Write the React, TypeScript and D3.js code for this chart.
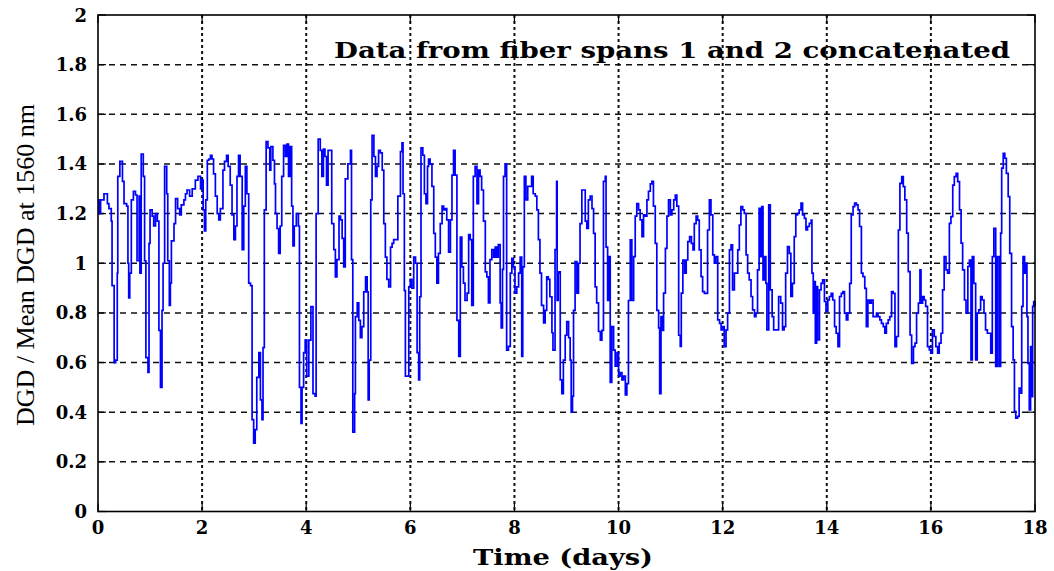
import React from "react";
import * as d3 from "d3";

const timeDays: number[] = [
  0, 0.02, 0.05, 0.115, 0.18, 0.21, 0.255, 0.27, 0.31, 0.34, 0.37, 0.38, 0.42, 0.47, 0.5, 0.55, 0.575, 0.59, 0.61, 0.64,
  0.68, 0.72, 0.75, 0.79, 0.805, 0.83, 0.87, 0.895, 0.92, 0.96, 0.98, 1.0, 1.04, 1.07, 1.105, 1.14, 1.17, 1.2, 1.23, 1.25,
  1.28, 1.32, 1.34, 1.37, 1.39, 1.41, 1.46, 1.49, 1.53, 1.57, 1.6, 1.65, 1.68, 1.71, 1.76, 1.81, 1.87, 1.92, 1.97, 2.0,
  2.02, 2.045, 2.07, 2.1, 2.13, 2.16, 2.19, 2.22, 2.255, 2.29, 2.32, 2.35, 2.4, 2.43, 2.47, 2.5, 2.54, 2.575, 2.61, 2.64,
  2.67, 2.7, 2.73, 2.77, 2.8, 2.83, 2.86, 2.895, 2.93, 2.96, 2.99, 3.02, 3.05, 3.09, 3.12, 3.15, 3.17, 3.195, 3.23, 3.265,
  3.3, 3.32, 3.36, 3.39, 3.41, 3.44, 3.47, 3.5, 3.53, 3.565, 3.6, 3.63, 3.66, 3.69, 3.72, 3.745, 3.77, 3.81, 3.85, 3.87,
  3.9, 3.92, 3.95, 3.98, 4.01, 4.05, 4.09, 4.13, 4.17, 4.19, 4.23, 4.27, 4.3, 4.33,
  4.36, 4.39, 4.42, 4.46, 4.49, 4.53, 4.56, 4.59, 4.63, 4.66, 4.69, 4.72, 4.75, 4.8, 4.85, 4.87, 4.895, 4.93, 4.945, 4.98,
  5.01, 5.04, 5.07, 5.105, 5.14, 5.17, 5.19, 5.21, 5.24, 5.265, 5.3, 5.33, 5.36, 5.39, 5.425, 5.46, 5.49, 5.52, 5.55, 5.585,
  5.62, 5.65, 5.68, 5.71, 5.76, 5.81, 5.84, 5.86, 5.885, 5.905, 5.935, 5.97, 6.0, 6.03, 6.065, 6.1, 6.13, 6.16, 6.18, 6.205,
  6.24, 6.27, 6.3, 6.33, 6.35, 6.38, 6.415, 6.45, 6.48, 6.51, 6.54, 6.575, 6.61, 6.64, 6.67, 6.7, 6.735, 6.77, 6.8, 6.83,
  6.86, 6.895, 6.93, 6.96, 6.99, 7.02, 7.05, 7.09, 7.12, 7.15, 7.18, 7.21, 7.245, 7.28, 7.31, 7.34, 7.37, 7.405, 7.44, 7.47,
  7.5, 7.53, 7.565, 7.6, 7.63, 7.66, 7.69, 7.725, 7.745, 7.77, 7.79, 7.82, 7.85, 7.885, 7.92, 7.95, 7.98, 8.01, 8.045, 8.08,
  8.11, 8.14, 8.16, 8.19, 8.22, 8.255, 8.3, 8.33, 8.36, 8.4, 8.43, 8.46, 8.49, 8.52, 8.56, 8.59, 8.62, 8.65, 8.68, 8.72,
  8.74, 8.78, 8.81,
  8.82, 8.84, 8.855, 8.88, 8.91, 8.94, 8.975, 9.005, 9.04, 9.07, 9.09, 9.115, 9.135, 9.165, 9.2, 9.23, 9.26, 9.295, 9.33, 9.36,
  9.39, 9.42, 9.455, 9.49, 9.52, 9.55, 9.58, 9.615, 9.65, 9.68, 9.71, 9.745, 9.76, 9.79, 9.815, 9.84, 9.87, 9.905, 9.935, 9.97,
  10.0, 10.03, 10.065, 10.095, 10.13, 10.16, 10.19, 10.225, 10.255, 10.29, 10.32, 10.35, 10.385, 10.415, 10.45, 10.48, 10.51, 10.545, 10.575, 10.61,
  10.64, 10.67, 10.705, 10.735, 10.77, 10.79, 10.815, 10.845, 10.865, 10.9, 10.93, 10.96, 10.995, 11.025, 11.06, 11.09, 11.12, 11.155, 11.185, 11.205,
  11.235, 11.27, 11.3, 11.33, 11.365, 11.4, 11.43, 11.455, 11.49, 11.52, 11.55, 11.585, 11.615, 11.65, 11.68, 11.71, 11.745, 11.775, 11.81, 11.84,
  11.87, 11.905, 11.94, 11.97, 12.0, 12.03, 12.065, 12.095, 12.13, 12.16, 12.19, 12.225, 12.255, 12.29, 12.32, 12.35, 12.385, 12.415, 12.45, 12.48,
  12.51, 12.545, 12.575, 12.61, 12.64, 12.67, 12.7, 12.725, 12.75, 12.775, 12.8, 12.83, 12.85, 12.885, 12.915, 12.95, 12.98, 13.01, 13.045, 13.075,
  13.115, 13.15, 13.18, 13.21, 13.245, 13.28, 13.31, 13.34, 13.375, 13.405, 13.44, 13.47, 13.505, 13.535, 13.57, 13.6, 13.63, 13.665, 13.7, 13.715,
  13.74, 13.76, 13.78, 13.805, 13.825, 13.86, 13.89, 13.92, 13.955, 13.985, 14.02, 14.05, 14.085, 14.115, 14.15, 14.18, 14.215, 14.245, 14.28, 14.31,
  14.34, 14.375, 14.405, 14.44, 14.47, 14.505, 14.535, 14.57, 14.6, 14.63, 14.665, 14.695, 14.73, 14.76, 14.79, 14.825, 14.855, 14.89, 14.92, 14.955,
  14.985, 15.02, 15.05, 15.085, 15.115, 15.145, 15.18, 15.21, 15.245, 15.275, 15.31, 15.34, 15.375, 15.405, 15.44, 15.47, 15.5, 15.535, 15.565, 15.6,
  15.63, 15.665, 15.695, 15.725, 15.76, 15.79, 15.81, 15.84, 15.87, 15.9, 15.935, 15.97, 16.0, 16.03, 16.065, 16.095, 16.13, 16.16, 16.195, 16.225,
  16.255, 16.29, 16.32, 16.355, 16.385, 16.42, 16.45, 16.485, 16.515, 16.55, 16.58, 16.61, 16.645, 16.675, 16.71, 16.74, 16.77, 16.795, 16.825, 16.86,
  16.89, 16.92, 16.955, 16.985, 17.02, 17.05, 17.085, 17.115, 17.15, 17.18, 17.21, 17.245, 17.275, 17.31, 17.34, 17.36, 17.39, 17.42, 17.45, 17.485,
  17.515, 17.55, 17.58, 17.605, 17.63, 17.665, 17.695, 17.73, 17.745, 17.77, 17.8, 17.825, 17.845, 17.865, 17.89, 17.915, 17.935, 17.955, 17.975, 18.0,
];

const dgdRatio: number[] = [
  1.255, 1.2, 1.255, 1.28, 1.24, 1.22, 1.17, 0.91, 0.6, 0.61, 0.96, 1.35, 1.41, 1.33, 1.24, 1.23, 1.0, 0.86, 0.96, 1.255,
  1.29, 1.275, 1.01, 1.27, 0.96, 1.44, 1.35, 1.01, 0.62, 0.56, 1.08, 1.215, 1.19, 1.15, 1.2, 1.17, 0.73, 0.5, 0.81, 1.0,
  1.39, 1.28, 1.01, 0.83, 0.92, 1.09, 1.16, 1.26, 1.22, 1.195, 1.235, 1.255, 1.28, 1.295, 1.27, 1.3, 1.335, 1.35, 1.3, 1.335,
  1.215, 1.13, 1.255, 1.415, 1.42, 1.435, 1.42, 1.36, 1.27, 1.2, 1.175, 1.22, 1.375, 1.41, 1.435, 1.39, 1.315, 1.195, 1.095, 1.15,
  1.35, 1.435, 1.35, 1.055, 1.23, 1.39, 1.28, 0.92, 0.91, 0.37, 0.275, 0.33, 0.54, 0.64, 0.45, 0.37, 0.66, 1.215, 1.49, 1.465,
  1.375, 1.47, 1.415, 1.32, 1.2, 1.14, 1.04, 1.15, 1.35, 1.475, 1.43, 1.48, 1.35, 1.47, 1.23, 1.07, 1.15, 1.2, 1.15, 0.5,
  0.355, 0.5, 0.64, 0.69, 0.545, 0.69, 0.825, 0.475, 0.465, 1.2, 1.5, 1.455, 1.35, 1.46,
  1.43, 1.315, 1.455, 1.455, 1.16, 1.055, 0.945, 1.015, 1.19, 1.175, 1.1, 0.985, 1.34, 1.4, 1.455, 1.015, 0.32, 0.475, 0.785, 0.84,
  0.77, 0.7, 0.745, 0.885, 0.945, 0.885, 0.45, 0.61, 1.255, 1.515, 1.43, 1.35, 1.39, 1.455, 1.445, 1.375, 1.16, 1.025, 0.935, 0.905,
  1.065, 1.08, 1.095, 1.095, 1.27, 1.45, 1.485, 1.28, 0.89, 0.545, 0.545, 0.905, 0.935, 0.9, 1.025, 1.0, 0.64, 0.53, 0.865, 1.465,
  1.435, 1.28, 1.24, 1.39, 1.42, 1.4, 1.31, 1.12, 1.025, 0.92, 1.04, 1.16, 1.23, 1.215, 1.22, 1.175, 1.045, 1.175, 1.355, 1.455,
  1.355, 0.77, 0.625, 1.105, 0.985, 0.92, 0.85, 0.88, 1.115, 1.095, 0.83, 1.35, 1.39, 1.24, 1.375, 1.35, 1.295, 1.17, 0.965, 0.945,
  0.84, 1.015, 1.055, 1.025, 1.065, 1.025, 1.075, 0.84, 0.74, 0.975, 1.35, 1.4, 0.65, 0.665, 0.96, 1.02, 0.985, 0.88, 0.905, 0.96,
  1.025, 0.625, 0.985, 1.35, 1.255, 1.31, 1.31, 1.35, 1.28, 1.27, 1.215, 1.095, 0.96, 0.83, 0.76, 0.81, 0.945, 0.935, 0.865, 0.72,
  0.65, 1.055, 1.33,
  0.85, 0.96, 0.965, 0.53, 0.475, 0.61, 0.71, 0.765, 0.7, 0.61, 0.4, 0.465, 0.81, 1.007, 0.88, 1.0, 1.16, 1.295, 1.295, 1.17,
  1.14, 1.255, 1.27, 1.22, 1.12, 0.905, 0.84, 0.725, 0.69, 0.73, 1.33, 1.35, 1.065, 0.85, 1.027, 0.52, 0.745, 0.65, 0.585, 0.64,
  0.545, 0.56, 0.53, 0.545, 0.47, 0.515, 0.85, 1.094, 0.85, 1.027, 1.19, 1.24, 1.215, 1.175, 1.107, 1.195, 1.19, 1.255, 1.29, 1.32,
  1.33, 1.23, 1.08, 0.81, 0.74, 0.475, 0.785, 0.73, 0.88, 1.06, 1.19, 1.255, 1.195, 1.215, 1.255, 1.275, 1.23, 0.71, 0.665, 0.88,
  1.013, 0.96, 1.013, 1.087, 1.107, 1.08, 1.054, 1.16, 1.19, 1.174, 1.054, 0.946, 0.886, 0.879, 0.879, 1.134, 1.255, 1.195, 1.034, 1.0,
  1.027, 0.772, 0.758, 0.732, 0.745, 0.664, 0.732, 0.799, 1.054, 1.074, 0.893, 0.96, 0.96, 1.054, 1.154, 1.228, 1.215, 1.201, 1.034, 0.96,
  0.933, 0.866, 0.812, 0.785, 0.799, 0.973, 1.221, 1.027, 1.228, 0.933, 1.027, 0.919, 0.732, 1.235, 0.893, 0.785, 0.732, 0.732, 0.732, 0.866,
  0.839, 0.732, 0.745, 0.96, 1.067, 1.04, 0.866, 0.919, 1.107, 1.195, 1.201, 1.215, 1.242, 1.195, 1.181, 1.134, 1.148, 1.161, 1.174, 0.96,
  0.799, 0.926, 0.678, 0.906, 0.691, 0.893, 0.919, 0.933, 0.846, 0.805, 0.852, 0.866, 0.879, 0.852, 0.745, 0.718, 0.664, 0.866, 0.879, 0.886,
  0.799, 0.772, 0.799, 0.919, 1.195, 1.228, 1.242, 1.235, 1.215, 1.148, 0.96, 0.946, 0.899, 0.745, 0.852, 0.839, 0.852, 0.785, 0.785, 0.799,
  0.785, 0.772, 0.758, 0.745, 0.718, 0.758, 0.772, 0.785, 0.886, 0.879, 0.664, 0.705, 1.134, 1.322, 1.349, 1.309, 1.255, 1.121, 0.966, 0.711,
  0.597, 0.664, 0.678, 0.799, 0.839, 0.973, 0.839, 0.866, 0.852, 0.826, 0.664, 0.651, 0.638, 0.732, 0.705, 0.664, 0.638, 0.678, 0.718, 0.893,
  1.027, 0.973, 0.96, 1.161, 1.188, 1.315, 1.349, 1.362, 1.329, 1.215, 1.081, 0.973, 0.852, 0.799, 0.987, 1.013, 0.611, 1.027, 0.919, 0.611,
  0.799, 0.812, 0.866, 0.852, 0.799, 0.732, 0.718, 0.718, 0.638, 1.027, 1.141, 0.584, 1.027, 0.584, 1.121, 1.383, 1.443, 1.423, 1.362, 1.268,
  1.04, 0.745, 0.611, 0.403, 0.376, 0.383, 0.497, 0.477, 0.826, 1.027, 0.96, 1.0, 0.785, 0.597, 0.409, 0.664, 0.463, 0.826, 0.846, 0.826,
];

const xTickValues: number[] = [0, 2, 4, 6, 8, 10, 12, 14, 16, 18];
const yTickValues: number[] = [0, 0.2, 0.4, 0.6, 0.8, 1, 1.2, 1.4, 1.6, 1.8, 2];
const yTickLabels: string[] = ["0", "0.2", "0.4", "0.6", "0.8", "1", "1.2", "1.4", "1.6", "1.8", "2"];
const titleText = "Data from fiber spans 1 and 2 concatenated";
const xAxisTitle = "Time (days)";
const yAxisTitle = "DGD / Mean DGD at 1560 nm";

const W = 1054;
const H = 571;
const L = 98;
const R = 1035;
const T = 15;
const B = 511.5;

export default function App() {
  const x = d3.scaleLinear().domain([0, 18]).range([L, R]);
  const y = d3.scaleLinear().domain([0, 2]).range([B, T]);
  const pts: [number, number][] = timeDays.map((t, i) => [t, dgdRatio[i]]);
  const line = d3
    .line<[number, number]>()
    .curve(d3.curveStepAfter)
    .x((d) => x(d[0]))
    .y((d) => y(d[1]));
  const tickFont = { fontFamily: "'DejaVu Serif', serif", fontWeight: 700, fontSize: 18 };
  return (
    <svg
      width={W}
      height={H}
      style={{ position: "absolute", left: 0, top: 0, background: "#fff" }}
    >
      <rect x={0} y={0} width={W} height={H} fill="#fff" />
      {yTickValues.slice(1, -1).map((v) => (
        <line
          key={"hg" + v}
          x1={L}
          x2={R}
          y1={y(v)}
          y2={y(v)}
          stroke="#111"
          strokeWidth={1.5}
          strokeDasharray="6,5"
        />
      ))}
      {xTickValues.slice(1, -1).map((v) => (
        <line
          key={"vg" + v}
          x1={x(v)}
          x2={x(v)}
          y1={T}
          y2={B}
          stroke="#111"
          strokeWidth={2}
          strokeDasharray="3,3"
        />
      ))}
      {xTickValues.map((v) => (
        <g key={"xt" + v}>
          <line x1={x(v)} x2={x(v)} y1={B} y2={B - 8} stroke="#000" strokeWidth={1.2} />
          <line x1={x(v)} x2={x(v)} y1={T} y2={T + 8} stroke="#000" strokeWidth={1.2} />
        </g>
      ))}
      {yTickValues.map((v) => (
        <g key={"yt" + v}>
          <line x1={L} x2={L + 8} y1={y(v)} y2={y(v)} stroke="#000" strokeWidth={1.2} />
          <line x1={R} x2={R - 8} y1={y(v)} y2={y(v)} stroke="#000" strokeWidth={1.2} />
        </g>
      ))}
      <path d={line(pts) ?? ""} fill="none" stroke="#0000ff" strokeWidth={1.7} strokeLinejoin="miter" />
      <rect x={L} y={T} width={R - L} height={B - T} fill="none" stroke="#000" strokeWidth={1.6} />
      {yTickValues.map((v, i) => (
        <text key={"yl" + v} x={87} y={y(v) + 6.5} textAnchor="end" {...tickFont}>
          {yTickLabels[i]}
        </text>
      ))}
      {xTickValues.map((v) => (
        <text key={"xl" + v} x={x(v)} y={534} textAnchor="middle" {...tickFont}>
          {String(v)}
        </text>
      ))}
      <text
        x={334}
        y={58}
        textLength={676}
        lengthAdjust="spacingAndGlyphs"
        fontFamily="'DejaVu Serif', serif"
        fontWeight={700}
        fontSize={22}
      >
        {titleText}
      </text>
      <text
        x={473}
        y={565}
        textLength={180}
        lengthAdjust="spacingAndGlyphs"
        fontFamily="'DejaVu Serif', serif"
        fontWeight={700}
        fontSize={22}
      >
        {xAxisTitle}
      </text>
      <text
        transform="translate(34,426) rotate(-90)"
        x={0}
        y={0}
        textLength={322}
        lengthAdjust="spacingAndGlyphs"
        fontFamily="'Liberation Serif', serif"
        fontSize={26}
      >
        {yAxisTitle}
      </text>
    </svg>
  );
}
